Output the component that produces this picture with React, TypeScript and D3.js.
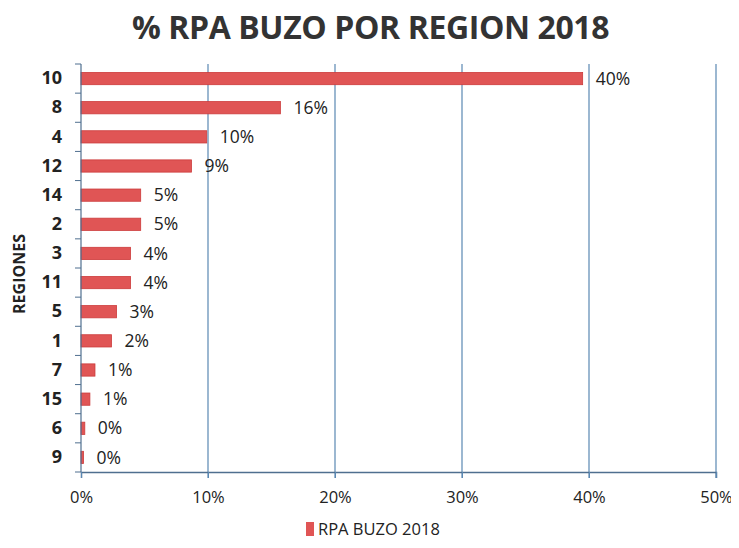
import React, { useEffect, useRef } from 'react';
import * as d3 from 'd3';

const regions = ['10', '8', '4', '12', '14', '2', '3', '11', '5', '1', '7', '15', '6', '9'];
const values = [0.395, 0.157, 0.099, 0.087, 0.047, 0.047, 0.039, 0.039, 0.028, 0.024, 0.011, 0.007, 0.003, 0.002];
const xTicks = [0, 0.1, 0.2, 0.3, 0.4, 0.5];
const seriesName = 'RPA BUZO 2018';

const W = 739;
const H = 548;
const font = '"Open Sans", "DejaVu Sans", sans-serif';

export default function App() {
  const ref = useRef<SVGSVGElement>(null);

  useEffect(() => {
    if (!ref.current) return;
    const svg = d3.select(ref.current);
    svg.selectAll('*').remove();

    const margin = { top: 64, right: 23, bottom: 76, left: 81 };
    const width = W - margin.left - margin.right;
    const height = H - margin.top - margin.bottom;

    const x = d3.scaleLinear().domain([0, 0.5]).range([0, width]);
    const y = d3.scaleBand().domain(regions).range([0, height]).paddingInner(0.58).paddingOuter(0.29);

    svg.append('rect').attr('width', W).attr('height', H).attr('fill', '#fff');

    // title
    svg
      .append('text')
      .attr('x', W / 2 + 1)
      .attr('y', 39)
      .attr('text-anchor', 'middle')
      .style('font-family', font)
      .style('font-weight', 'bold')
      .style('font-size', '32px')
      .style('letter-spacing', '-0.4px')
      .style('fill', '#333')
      .text('% RPA BUZO POR REGION 2018');

    const g = svg.append('g').attr('transform', `translate(${margin.left},${margin.top})`);

    // vertical gridlines
    g.selectAll('.grid')
      .data(xTicks.slice(1))
      .enter()
      .append('line')
      .attr('x1', (d) => x(d))
      .attr('x2', (d) => x(d))
      .attr('y1', 0)
      .attr('y2', height + 6)
      .attr('stroke', '#5a88b3')
      .attr('stroke-width', 1.2);

    // bars
    g.selectAll('.bar')
      .data(values)
      .enter()
      .append('rect')
      .attr('x', 0)
      .attr('y', (d, i) => y(regions[i])!)
      .attr('width', (d) => x(d))
      .attr('height', y.bandwidth())
      .attr('fill', '#e05555')
      .attr('stroke', '#cc3b3b')
      .attr('stroke-width', 0.8);

    // value labels
    g.selectAll('.lbl')
      .data(values)
      .enter()
      .append('text')
      .attr('x', (d) => x(d) + 13)
      .attr('y', (d, i) => y(regions[i])! + y.bandwidth() / 2)
      .attr('dy', '0.35em')
      .style('font-family', font)
      .style('font-size', '17.5px')
      .style('fill', '#222')
      .text((d) => d3.format('.0%')(d));

    // x axis
    const xAxis = g
      .append('g')
      .attr('transform', `translate(0,${height})`)
      .call(d3.axisBottom(x).tickValues(xTicks).tickFormat(d3.format('.0%')).tickSize(6).tickPadding(13));
    xAxis.select('.domain').attr('stroke', '#4f6f8f').attr('stroke-width', 1.5);
    xAxis.selectAll('.tick line').attr('stroke', '#5a88b3');
    xAxis
      .selectAll('.tick text')
      .style('font-family', font)
      .style('font-size', '16.5px')
      .style('fill', '#222');

    // y axis
    const yAxis = g.append('g').call(d3.axisLeft(y).tickSize(0).tickPadding(19));
    yAxis.select('.domain').remove();
    yAxis
      .selectAll('.tick text')
      .style('font-family', font)
      .style('font-weight', 'bold')
      .style('font-size', '18px')
      .style('fill', '#222');
    g.append('line')
      .attr('x1', 0)
      .attr('x2', 0)
      .attr('y1', 0)
      .attr('y2', height)
      .attr('stroke', '#4f6f8f')
      .attr('stroke-width', 1.2);
    const step = y.step();
    g.selectAll('.ytick')
      .data(d3.range(regions.length + 1))
      .enter()
      .append('line')
      .attr('x1', -6)
      .attr('x2', 0)
      .attr('y1', (i) => i * step)
      .attr('y2', (i) => i * step)
      .attr('stroke', '#4f6f8f');

    // y axis title
    svg
      .append('text')
      .attr('transform', `translate(25,${margin.top + height / 2 + 6}) rotate(-90)`)
      .attr('text-anchor', 'middle')
      .style('font-family', font)
      .style('font-weight', 'bold')
      .style('font-size', '16px')
      .style('fill', '#222')
      .text('REGIONES');

    // legend
    const lg = svg.append('g').attr('transform', `translate(306,529)`);
    lg.append('rect').attr('x', 0).attr('y', -7).attr('width', 8).attr('height', 14).attr('fill', '#e05555');
    lg.append('text')
      .attr('x', 12)
      .attr('y', 0)
      .attr('dy', '0.35em')
      .style('font-family', font)
      .style('font-size', '16.5px')
      .style('fill', '#222')
      .text(seriesName);
  }, []);

  return <svg ref={ref} width={W} height={H} style={{ display: 'block', margin: '-8px' }} />;
}
